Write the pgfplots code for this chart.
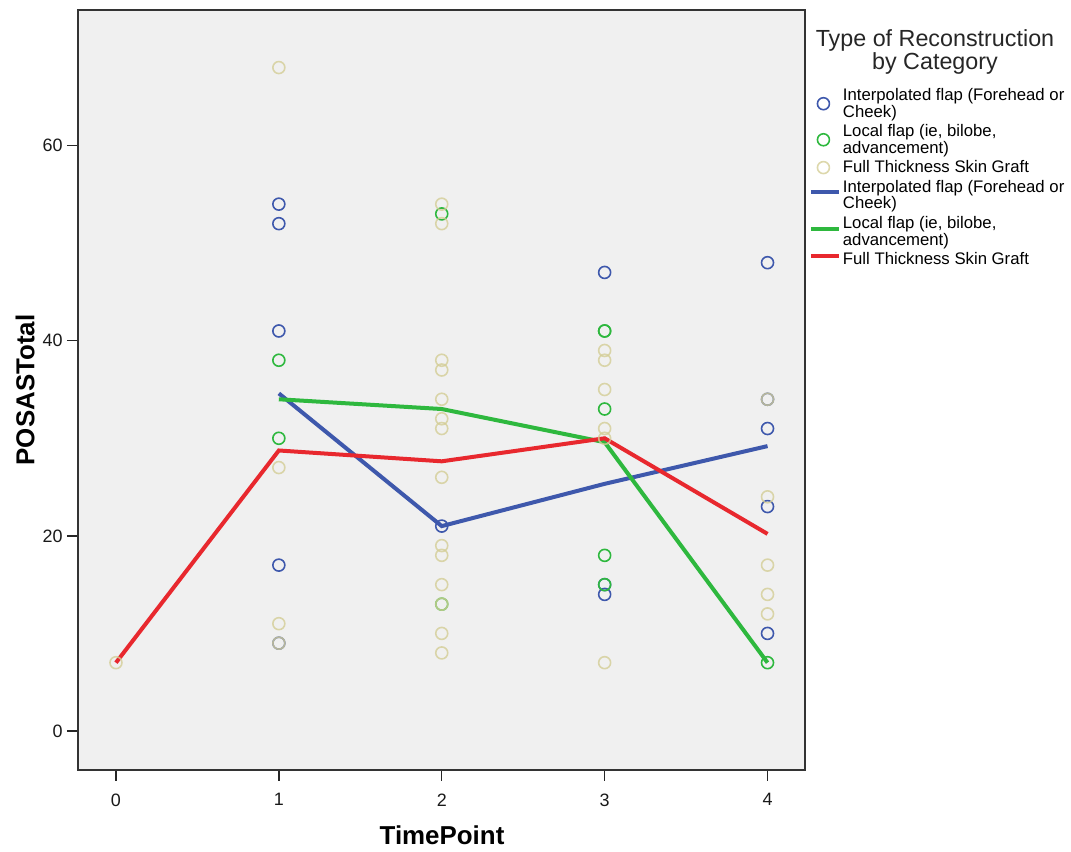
\documentclass[border=0pt]{standalone}
\usepackage{pgfplots}
\pgfplotsset{compat=1.18}
\usepackage{fontspec}
\setmainfont{Liberation Sans}
\definecolor{cblue}{RGB}{62,88,172}
\definecolor{cgreen}{RGB}{46,184,62}
\definecolor{cyellow}{RGB}{212,206,151}
\definecolor{cred}{RGB}{232,40,46}
\definecolor{cbg}{RGB}{240,240,240}
\pgfplotsset{linelegend/.style={legend image code/.code={\draw[##1] (-4bp,3bp) -- (24bp,3bp);}}}
\begin{document}
\begin{tikzpicture}
\useasboundingbox (0,0) rectangle (1071bp,852bp);
\begin{axis}[
  at={(78bp,82bp)}, anchor=south west,
  scale only axis, width=727bp, height=760bp,
  xmin=-0.233, xmax=4.23, ymin=-4, ymax=73.9,
  xtick={0,1,2,3,4}, ytick={0,20,40,60},
  xtick pos=bottom, ytick pos=left,
  tick align=outside, major tick length=11bp,
  tick style={line width=1.5bp, color=black!85},
  axis line style={line width=1.5bp, color=black!80},
  axis background/.style={fill=cbg},
  /pgf/number format/assume math mode=true,
  ticklabel style={font=\fontsize{18}{20}\selectfont, text=black!90},
  xticklabel style={yshift=-9bp},
  yticklabel style={xshift=-1bp},
  xlabel={TimePoint}, ylabel={POSASTotal},
  label style={font=\fontsize{26}{30}\selectfont\bfseries},
  xlabel style={at={(axis description cs:0.5007,-0.0855)}, anchor=center},
  ylabel style={at={(axis description cs:-0.0729,0.5)}, anchor=center},
  legend style={at={(1.001,0.902)}, anchor=north west, draw=none, fill=none,
    font=\fontsize{16.8}{16.5}\selectfont, row sep=2bp,
    nodes={inner sep=2bp, align=left}},
  legend cell align=left,
  clip=false,
]
\addplot[only marks, mark=o, mark size=6bp, mark options={line width=1.6bp, draw=cblue}]
  coordinates {(1,54)(1,52)(1,41)(1,17)(1,9)(2,21)(3,47)(3,15)(3,14)(4,48)(4,34)(4,31)(4,23)(4,10)};
\addlegendentry{Interpolated flap (Forehead or\\Cheek)}
\addplot[only marks, mark=o, mark size=6bp, mark options={line width=1.6bp, draw=cgreen}]
  coordinates {(1,38)(1,30)(2,53)(2,13)(3,41)(3,41)(3,33)(3,18)(3,15)(4,7)};
\addlegendentry{Local flap (ie, bilobe,\\advancement)}
\addplot[only marks, mark=o, mark size=6bp, mark options={line width=1.6bp, draw=cyellow, draw opacity=0.8}]
  coordinates {(0,7)(1,68)(1,27)(1,11)(1,9)(2,54)(2,52)(2,38)(2,37)(2,34)(2,32)(2,31)(2,26)(2,19)(2,18)(2,15)(2,13)(2,10)(2,8)(3,39)(3,38)(3,35)(3,31)(3,30)(3,7)(4,34)(4,24)(4,17)(4,14)(4,12)};
\addlegendentry{Full Thickness Skin Graft}
\addplot[color=cblue, line width=4bp, mark=none, linelegend]
  coordinates {(1,34.6)(2,21)(3,25.33)(4,29.2)};
\addlegendentry{Interpolated flap (Forehead or\\Cheek)}
\addplot[color=cgreen, line width=4bp, mark=none, linelegend]
  coordinates {(1,34)(2,33)(3,29.6)(4,7)};
\addlegendentry{Local flap (ie, bilobe,\\advancement)}
\addplot[color=cred, line width=4bp, mark=none, linelegend]
  coordinates {(0,7)(1,28.75)(2,27.64)(3,30)(4,20.2)};
\addlegendentry{Full Thickness Skin Graft}
\node[font=\fontsize{23.4}{24}\selectfont, text=black!85, anchor=center] at (rel axis cs:1.1788,0.9605) {Type of Reconstruction};
\node[font=\fontsize{23.4}{24}\selectfont, text=black!85, anchor=center] at (rel axis cs:1.1788,0.929) {by Category};
\end{axis}
\end{tikzpicture}
\end{document}
